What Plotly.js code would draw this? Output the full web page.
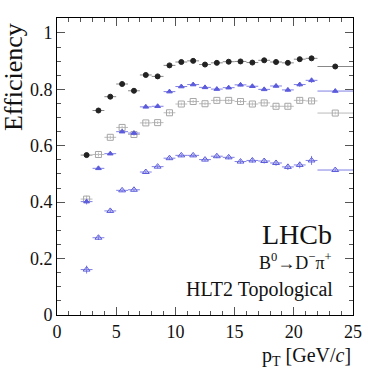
<!DOCTYPE html>
<html>
<head>
<meta charset="utf-8">
<script src="https://cdn.plot.ly/plotly-3.0.1.min.js"></script>
<style>
  body { margin: 0; background: #fff; }
  #chart { width: 384px; height: 372px; }
</style>
</head>
<body>
<div id="chart"></div>
<script>
// pT bins (GeV/c): centres and half widths
let ptBins = [2.5, 3.5, 4.5, 5.5, 6.5, 7.5, 8.5, 9.5, 10.5, 11.5, 12.5, 13.5, 14.5, 15.5, 16.5, 17.5, 18.5, 19.5, 20.5, 21.5, 23.5];
let ptHalf = [0.5, 0.5, 0.5, 0.5, 0.5, 0.5, 0.5, 0.5, 0.5, 0.5, 0.5, 0.5, 0.5, 0.5, 0.5, 0.5, 0.5, 0.5, 0.5, 0.5, 1.5];

// efficiencies
let effCircle = [0.567, 0.725, 0.774, 0.819, 0.795, 0.851, 0.846, 0.885, 0.897, 0.901, 0.888, 0.894, 0.898, 0.899, 0.895, 0.903, 0.897, 0.894, 0.907, 0.910, 0.881];
let errCircle = [0.008, 0.005, 0.004, 0.004, 0.004, 0.004, 0.004, 0.004, 0.004, 0.004, 0.004, 0.004, 0.004, 0.004, 0.004, 0.004, 0.004, 0.004, 0.005, 0.005, 0.004];

let effTriFull = [0.402, 0.520, 0.572, 0.650, 0.645, 0.738, 0.740, 0.792, 0.810, 0.817, 0.807, 0.801, 0.806, 0.816, 0.811, 0.800, 0.812, 0.798, 0.817, 0.832, 0.794];
let errTriFull = [0.010, 0.006, 0.005, 0.005, 0.005, 0.005, 0.005, 0.005, 0.005, 0.005, 0.005, 0.005, 0.005, 0.005, 0.006, 0.006, 0.006, 0.007, 0.008, 0.009, 0.005];

let effSquare = [0.411, 0.569, 0.630, 0.665, 0.640, 0.681, 0.682, 0.717, 0.748, 0.757, 0.749, 0.761, 0.761, 0.757, 0.748, 0.752, 0.740, 0.740, 0.761, 0.759, 0.716];
let errSquare = [0.012, 0.007, 0.006, 0.006, 0.006, 0.005, 0.005, 0.005, 0.005, 0.005, 0.005, 0.005, 0.005, 0.005, 0.006, 0.006, 0.006, 0.007, 0.008, 0.009, 0.005];

let effTriOpen = [0.161, 0.274, 0.369, 0.442, 0.444, 0.507, 0.526, 0.556, 0.566, 0.566, 0.551, 0.563, 0.559, 0.544, 0.548, 0.546, 0.539, 0.525, 0.532, 0.548, 0.514];
let errTriOpen = [0.014, 0.008, 0.007, 0.006, 0.006, 0.006, 0.006, 0.006, 0.006, 0.006, 0.006, 0.007, 0.007, 0.007, 0.008, 0.009, 0.010, 0.011, 0.012, 0.016, 0.006];

let black = "#222222";
let blue = "#5b5bdc";
let grey = "#a6a6a6";

function series(y, err, symbol, color, errColor, size) {
    return {
        x: ptBins,
        y: y,
        type: 'scatter',
        mode: 'markers',
        marker: {symbol: symbol, size: size, color: color, line: {color: color, width: 1}},
        error_x: {type: 'data', array: ptHalf, color: errColor, thickness: 1, width: 0},
        error_y: {type: 'data', array: err, color: errColor, thickness: 1, width: 0},
        showlegend: false,
        cliponaxis: false
    };
}

let data = [
    series(effTriOpen, errTriOpen, 'triangle-up-open', blue, '#8080e4', 6),
    series(effSquare, errSquare, 'square-open', grey, '#bbbbbb', 6),
    series(effTriFull, errTriFull, 'triangle-up', blue, '#8080e4', 5),
    series(effCircle, errCircle, 'circle', black, '#888888', 5)
];

let serif = "Liberation Serif, Times New Roman, serif";

let axisBase = {
    showline: true,
    linecolor: '#000',
    linewidth: 1,
    mirror: 'allticks',
    ticks: 'inside',
    ticklen: 8,
    tickcolor: '#555',
    showgrid: false,
    zeroline: false,
    tickfont: {family: serif, size: 18, color: '#111'},
    fixedrange: true
};

let layout = {
    width: 384,
    height: 372,
    margin: {l: 57, r: 31, t: 18, b: 57, pad: 0},
    paper_bgcolor: '#fff',
    plot_bgcolor: '#fff',
    font: {family: serif, color: '#111'},
    xaxis: Object.assign({}, axisBase, {
        range: [0, 25],
        tickvals: [0, 5, 10, 15, 20, 25],
        minor: {dtick: 1, ticks: 'inside', ticklen: 4, tickcolor: '#555', showgrid: false}
    }),
    yaxis: Object.assign({}, axisBase, {
        range: [0, 1.053],
        tickvals: [0, 0.2, 0.4, 0.6, 0.8, 1],
        ticktext: ['0', '0.2', '0.4', '0.6', '0.8', '1'],
        minor: {dtick: 0.05, ticks: 'inside', ticklen: 4, tickcolor: '#555', showgrid: false}
    }),
    annotations: [
        {text: 'Efficiency', xref: 'paper', yref: 'paper', x: -0.145, y: 0.99, xanchor: 'center', yanchor: 'top',
         textangle: -90, showarrow: false, font: {family: serif, size: 26, color: '#111'}},
        {text: 'p<sub>T</sub> [GeV/<i>c</i>]', xref: 'paper', yref: 'paper', x: 1.0, y: -0.092, xanchor: 'right', yanchor: 'top',
         showarrow: false, font: {family: serif, size: 20, color: '#111'}},
        {text: 'LHCb', xref: 'paper', yref: 'paper', x: 0.935, y: 0.27, xanchor: 'right', yanchor: 'middle',
         showarrow: false, font: {family: serif, size: 28, color: '#111'}},
        {text: 'B<sup>0</sup>→D<sup>−</sup>π<sup>+</sup>', xref: 'paper', yref: 'paper', x: 0.935, y: 0.18, xanchor: 'right', yanchor: 'middle',
         showarrow: false, font: {family: serif, size: 18, color: '#111'}},
        {text: 'HLT2 Topological', xref: 'paper', yref: 'paper', x: 0.94, y: 0.085, xanchor: 'right', yanchor: 'middle',
         showarrow: false, font: {family: serif, size: 20, color: '#111'}}
    ]
};

Plotly.newPlot('chart', data, layout, {staticPlot: true});
</script>
</body>
</html>
